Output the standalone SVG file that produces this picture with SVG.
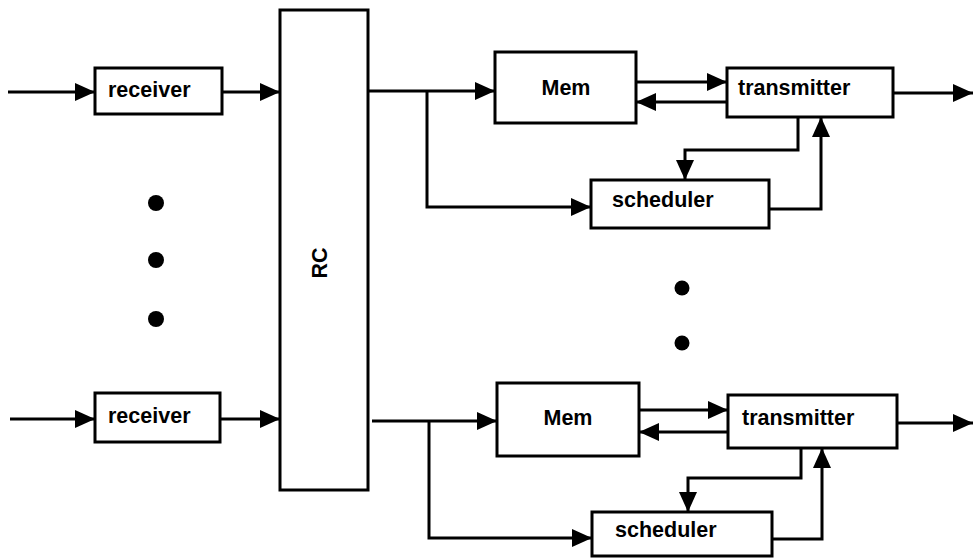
<svg xmlns="http://www.w3.org/2000/svg" width="974" height="560" viewBox="0 0 974 560">
<style>
.box{fill:#fff;stroke:#000;stroke-width:3}
.lbl{font-family:"Liberation Sans",Arial,sans-serif;font-weight:bold;font-size:21.5px;fill:#000}
.c{fill:none;stroke:#000;stroke-width:3;marker-end:url(#ah)}
</style>
<defs>
<marker id="ah" markerUnits="userSpaceOnUse" markerWidth="22" markerHeight="20" refX="20" refY="9" orient="auto">
<path d="M0,0 L20,9 L0,18 z" fill="#000"/>
</marker>
</defs>
<rect width="974" height="560" fill="#fff"/>
<g id="connectors">
<path class="c" d="M8,92 H95"/>
<path class="c" d="M222,92 H280"/>
<path class="c" d="M368,91 H495"/>
<path class="c" d="M427,91 V207 H591"/>
<path class="c" d="M636,82 H727"/>
<path class="c" d="M727,102 H636"/>
<path class="c" d="M798,117 V150 H685 V180"/>
<path class="c" d="M769,209 H821 V117"/>
<path class="c" d="M893,93 H973"/>
<path class="c" d="M10,419 H95"/>
<path class="c" d="M220,419 H280"/>
<path class="c" d="M372,421 H497"/>
<path class="c" d="M429,421 V538 H592"/>
<path class="c" d="M639,410 H728"/>
<path class="c" d="M728,432 H639"/>
<path class="c" d="M801,448 V478 H688 V512"/>
<path class="c" d="M772,539 H822 V448"/>
<path class="c" d="M897,423 H973"/>
</g>
<g id="receiver1"><rect class="box" x="95" y="68" width="127" height="46"/><text class="lbl" x="108" y="97">receiver</text></g>
<g id="receiver2"><rect class="box" x="95" y="393" width="125" height="49"/><text class="lbl" x="108" y="423">receiver</text></g>
<g id="rc"><rect class="box" x="280" y="10" width="88" height="480"/><text class="lbl" font-size="29" text-anchor="middle" transform="translate(327,263) rotate(-90)">RC</text></g>
<g id="mem1"><rect class="box" x="495" y="52" width="141" height="71"/><text class="lbl" x="566" y="95" text-anchor="middle">Mem</text></g>
<g id="transmitter1"><rect class="box" x="727" y="68" width="166" height="49"/><text class="lbl" x="738" y="95">transmitter</text></g>
<g id="scheduler1"><rect class="box" x="591" y="180" width="178" height="48"/><text class="lbl" x="612" y="207">scheduler</text></g>
<g id="mem2"><rect class="box" x="497" y="383" width="142" height="73"/><text class="lbl" x="568" y="425" text-anchor="middle">Mem</text></g>
<g id="transmitter2"><rect class="box" x="728" y="395" width="169" height="53"/><text class="lbl" x="742" y="425">transmitter</text></g>
<g id="scheduler2"><rect class="box" x="592" y="512" width="180" height="44"/><text class="lbl" x="615" y="537">scheduler</text></g>
<g id="dots" fill="#000">
<circle cx="156" cy="203" r="8"/><circle cx="156" cy="260" r="8"/><circle cx="156" cy="319" r="8"/>
<circle cx="682" cy="288" r="7.5"/><circle cx="682" cy="343" r="7.5"/>
</g>
</svg>
